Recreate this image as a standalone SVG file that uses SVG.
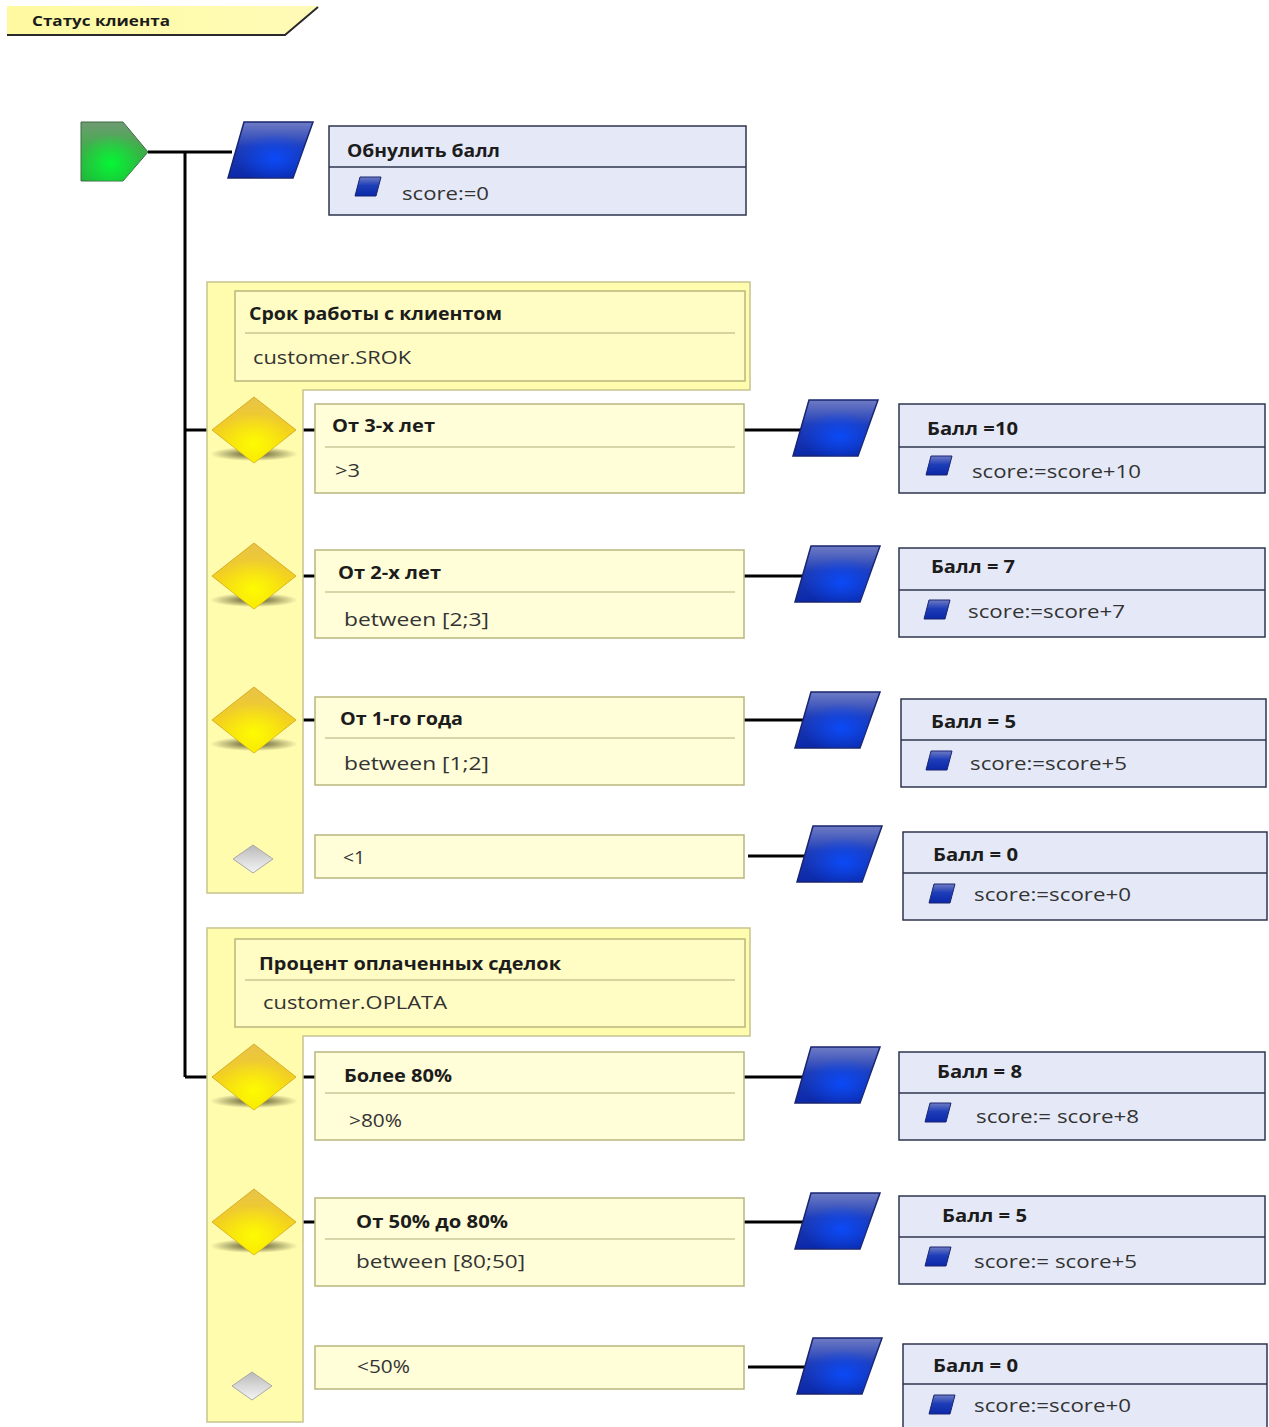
<svg xmlns="http://www.w3.org/2000/svg" width="1269" height="1427" viewBox="0 0 1269 1427">
<defs>
<linearGradient id="gGreen" x1="0" y1="0" x2="0" y2="1">
<stop offset="0" stop-color="#6f9a72"/><stop offset="0.45" stop-color="#3fae4a"/><stop offset="1" stop-color="#1fb83a"/>
</linearGradient>
<radialGradient id="gGreenHi" cx="0.45" cy="0.7" r="0.5">
<stop offset="0" stop-color="#00ff33" stop-opacity="0.9"/><stop offset="1" stop-color="#00ff33" stop-opacity="0"/>
</radialGradient>
<linearGradient id="gBlue" x1="0" y1="0" x2="0" y2="1">
<stop offset="0" stop-color="#6f7cc4"/><stop offset="0.45" stop-color="#1e3db8"/><stop offset="1" stop-color="#0a28a8"/>
</linearGradient>
<radialGradient id="gBlueHi" cx="0.55" cy="0.65" r="0.45">
<stop offset="0" stop-color="#0a4cff" stop-opacity="0.9"/><stop offset="1" stop-color="#0a4cff" stop-opacity="0"/>
</radialGradient>
<linearGradient id="gYellow" x1="0" y1="0" x2="0" y2="1">
<stop offset="0" stop-color="#e8c24a"/><stop offset="0.5" stop-color="#f3d020"/><stop offset="1" stop-color="#f6e400"/>
</linearGradient>
<radialGradient id="gYellowHi" cx="0.5" cy="0.7" r="0.45">
<stop offset="0" stop-color="#ffff00" stop-opacity="0.9"/><stop offset="1" stop-color="#ffff00" stop-opacity="0"/>
</radialGradient>
<radialGradient id="gShadow" cx="0.5" cy="0.5" r="0.5">
<stop offset="0" stop-color="#3a3410" stop-opacity="0.85"/><stop offset="1" stop-color="#3a3410" stop-opacity="0"/>
</radialGradient>
<linearGradient id="gGray" x1="0" y1="0" x2="0" y2="1">
<stop offset="0" stop-color="#b8b8b8"/><stop offset="0.5" stop-color="#d8d8d8"/><stop offset="1" stop-color="#f4f4f4"/>
</linearGradient>
<linearGradient id="gTab" x1="0" y1="0" x2="1" y2="0">
<stop offset="0" stop-color="#fffaa0"/><stop offset="1" stop-color="#fffbb8"/>
</linearGradient>
<filter id="blur2" x="-30%" y="-30%" width="160%" height="160%"><feGaussianBlur stdDeviation="2"/></filter>
<g id="para">
<path d="M 16 0 L 85 0 L 65 56 L 0 56 Z" fill="url(#gBlue)" stroke="#1a2570" stroke-width="1.5"/>
<path d="M 16 0 L 85 0 L 65 56 L 0 56 Z" fill="url(#gBlueHi)"/>
</g>
<g id="icon">
<path d="M 5 0 L 26 0 L 21 19 L 0 19 Z" fill="url(#gBlue)" stroke="#1a2570" stroke-width="1"/>
</g>
<g id="dia">
<ellipse cx="0" cy="24" rx="44" ry="7" fill="url(#gShadow)"/>
<path d="M -42 0 L 0 -33 L 42 0 L 0 33 Z" fill="url(#gYellow)" stroke="#d6b020" stroke-width="1"/>
<path d="M -42 0 L 0 -33 L 42 0 L 0 33 Z" fill="url(#gYellowHi)"/>
</g>
<g id="grayDia">
<path d="M -20 0 L 0 -14 L 20 0 L 0 14 Z" fill="url(#gGray)" stroke="#a8a8a8" stroke-width="1"/>
</g>
</defs>
<style>
.t{font-family:"Open Sans","Noto Sans","DejaVu Sans",sans-serif;fill:#1c1c1c}
.b{font-weight:bold;font-size:18px}
.v{font-size:19px;fill:#333}
.grp{fill:#fffcae;stroke:#c8c490;stroke-width:1.5}
.hdr{fill:#fffdc4;stroke:#b9b67e;stroke-width:1.5}
.cond{fill:#fffed8;stroke:#b9b67e;stroke-width:1.5}
.sep{stroke:#b0ad78;stroke-width:1.2}
.act{fill:#e5e9f7;stroke:#2e344e;stroke-width:1.5}
.asep{stroke:#2e344e;stroke-width:1.5}
.ln{stroke:#000;stroke-width:3;fill:none}
</style>

<g id="title-tab">
<path d="M 7 6 L 318 6 L 285 35 L 7 35 Z" fill="url(#gTab)"/>
<path d="M 7 35 L 285 35 L 318 7" fill="none" stroke="#2a2a2a" stroke-width="2"/>
<text class="t" x="32" y="26" font-weight="bold" font-size="14" textLength="138" lengthAdjust="spacingAndGlyphs">Статус клиента</text>
</g>

<g id="connectors">
<path class="ln" d="M 148 152 L 232 152"/>
<path class="ln" d="M 185 152 L 185 1077"/>
<path class="ln" d="M 185 430 L 214 430"/>
<path class="ln" d="M 185 1077 L 214 1077"/>
<path class="ln" d="M 254 430 L 254 846"/>
<path class="ln" d="M 254 1077 L 254 1373"/>
<path class="ln" d="M 294 430 L 316 430"/>
<path class="ln" d="M 294 576 L 316 576"/>
<path class="ln" d="M 294 720 L 316 720"/>
<path class="ln" d="M 294 1077 L 316 1077"/>
<path class="ln" d="M 294 1222 L 316 1222"/>
<path class="ln" d="M 744 430 L 806 430"/>
<path class="ln" d="M 744 576 L 806 576"/>
<path class="ln" d="M 744 720 L 806 720"/>
<path class="ln" d="M 748 856 L 808 856"/>
<path class="ln" d="M 744 1077 L 806 1077"/>
<path class="ln" d="M 744 1222 L 806 1222"/>
<path class="ln" d="M 748 1367 L 808 1367"/>
</g>

<g id="start">
<path d="M 81 122 L 123 122 L 148 152 L 123 181 L 81 181 Z" fill="url(#gGreen)" stroke="#3f6a45" stroke-width="1"/>
<path d="M 81 122 L 123 122 L 148 152 L 123 181 L 81 181 Z" fill="url(#gGreenHi)"/>
</g>

<g id="reset">
<use href="#para" x="228" y="122"/>
<rect class="act" x="329" y="126" width="417" height="89"/>
<line class="asep" x1="329" y1="167" x2="746" y2="167"/>
<text class="t b" x="347" y="157" textLength="153" lengthAdjust="spacingAndGlyphs">Обнулить балл</text>
<use href="#icon" x="355" y="177"/>
<text class="t v" x="402" y="200" textLength="87" lengthAdjust="spacingAndGlyphs">score:=0</text>
</g>

<g id="group-srok">
<path class="grp" d="M 207 282 L 750 282 L 750 390 L 303 390 L 303 893 L 207 893 Z"/>
<rect class="hdr" x="235" y="291" width="510" height="90"/>
<line class="sep" x1="245" y1="333" x2="735" y2="333"/>
<text class="t b" x="249" y="320" textLength="253" lengthAdjust="spacingAndGlyphs">Срок работы с клиентом</text>
<text class="t v" x="253" y="364" textLength="158" lengthAdjust="spacingAndGlyphs">customer.SROK</text>
</g>

<g id="cond-3">
<use href="#dia" x="254" y="430"/>
<rect class="cond" x="315" y="404" width="429" height="89"/>
<line class="sep" x1="325" y1="447" x2="735" y2="447"/>
<text class="t b" x="332" y="432" textLength="103" lengthAdjust="spacingAndGlyphs">От 3-х лет</text>
<text class="t v" x="335" y="477" textLength="25" lengthAdjust="spacingAndGlyphs">&gt;3</text>
</g>
<g id="cond-2">
<use href="#dia" x="254" y="576"/>
<rect class="cond" x="315" y="550" width="429" height="88"/>
<line class="sep" x1="325" y1="592" x2="735" y2="592"/>
<text class="t b" x="338" y="579" textLength="103" lengthAdjust="spacingAndGlyphs">От 2-х лет</text>
<text class="t v" x="344" y="626" textLength="145" lengthAdjust="spacingAndGlyphs">between [2;3]</text>
</g>
<g id="cond-1">
<use href="#dia" x="254" y="720"/>
<rect class="cond" x="315" y="697" width="429" height="88"/>
<line class="sep" x1="325" y1="738" x2="735" y2="738"/>
<text class="t b" x="340" y="725" textLength="123" lengthAdjust="spacingAndGlyphs">От 1-го года</text>
<text class="t v" x="344" y="770" textLength="145" lengthAdjust="spacingAndGlyphs">between [1;2]</text>
</g>
<g id="cond-lt1">
<use href="#grayDia" x="253" y="859"/>
<rect class="cond" x="315" y="835" width="429" height="43"/>
<text class="t v" x="343" y="864" textLength="22" lengthAdjust="spacingAndGlyphs">&lt;1</text>
</g>

<g id="act-10">
<use href="#para" x="793" y="400"/>
<rect class="act" x="899" y="404" width="366" height="89"/>
<line class="asep" x1="899" y1="447" x2="1265" y2="447"/>
<text class="t b" x="927" y="435" textLength="91" lengthAdjust="spacingAndGlyphs">Балл =10</text>
<use href="#icon" x="926" y="456"/>
<text class="t v" x="972" y="478" textLength="169" lengthAdjust="spacingAndGlyphs">score:=score+10</text>
</g>
<g id="act-7">
<use href="#para" x="795" y="546"/>
<rect class="act" x="899" y="548" width="366" height="89"/>
<line class="asep" x1="899" y1="590" x2="1265" y2="590"/>
<text class="t b" x="931" y="573" textLength="84" lengthAdjust="spacingAndGlyphs">Балл = 7</text>
<use href="#icon" x="924" y="600"/>
<text class="t v" x="968" y="618" textLength="157" lengthAdjust="spacingAndGlyphs">score:=score+7</text>
</g>
<g id="act-5a">
<use href="#para" x="795" y="692"/>
<rect class="act" x="901" y="699" width="365" height="88"/>
<line class="asep" x1="901" y1="740" x2="1266" y2="740"/>
<text class="t b" x="931" y="728" textLength="85" lengthAdjust="spacingAndGlyphs">Балл = 5</text>
<use href="#icon" x="926" y="751"/>
<text class="t v" x="970" y="770" textLength="157" lengthAdjust="spacingAndGlyphs">score:=score+5</text>
</g>
<g id="act-0a">
<use href="#para" x="797" y="826"/>
<rect class="act" x="903" y="832" width="364" height="88"/>
<line class="asep" x1="903" y1="873" x2="1267" y2="873"/>
<text class="t b" x="933" y="861" textLength="85" lengthAdjust="spacingAndGlyphs">Балл = 0</text>
<use href="#icon" x="929" y="884"/>
<text class="t v" x="974" y="901" textLength="157" lengthAdjust="spacingAndGlyphs">score:=score+0</text>
</g>

<g id="group-oplata">
<path class="grp" d="M 207 928 L 750 928 L 750 1036 L 303 1036 L 303 1422 L 207 1422 Z"/>
<rect class="hdr" x="235" y="939" width="510" height="88"/>
<line class="sep" x1="245" y1="980" x2="735" y2="980"/>
<text class="t b" x="259" y="970" textLength="302" lengthAdjust="spacingAndGlyphs">Процент оплаченных сделок</text>
<text class="t v" x="263" y="1009" textLength="184" lengthAdjust="spacingAndGlyphs">customer.OPLATA</text>
</g>

<g id="cond-80">
<use href="#dia" x="254" y="1077"/>
<rect class="cond" x="315" y="1052" width="429" height="88"/>
<line class="sep" x1="325" y1="1093" x2="735" y2="1093"/>
<text class="t b" x="344" y="1082" textLength="108" lengthAdjust="spacingAndGlyphs">Более 80%</text>
<text class="t v" x="349" y="1127" textLength="53" lengthAdjust="spacingAndGlyphs">&gt;80%</text>
</g>
<g id="cond-50-80">
<use href="#dia" x="254" y="1222"/>
<rect class="cond" x="315" y="1198" width="429" height="88"/>
<line class="sep" x1="325" y1="1239" x2="735" y2="1239"/>
<text class="t b" x="356" y="1228" textLength="152" lengthAdjust="spacingAndGlyphs">От 50% до 80%</text>
<text class="t v" x="356" y="1268" textLength="169" lengthAdjust="spacingAndGlyphs">between [80;50]</text>
</g>
<g id="cond-lt50">
<use href="#grayDia" x="252" y="1386"/>
<rect class="cond" x="315" y="1346" width="429" height="43"/>
<text class="t v" x="357" y="1373" textLength="53" lengthAdjust="spacingAndGlyphs">&lt;50%</text>
</g>

<g id="act-8">
<use href="#para" x="795" y="1047"/>
<rect class="act" x="899" y="1052" width="366" height="88"/>
<line class="asep" x1="899" y1="1093" x2="1265" y2="1093"/>
<text class="t b" x="937" y="1078" textLength="85" lengthAdjust="spacingAndGlyphs">Балл = 8</text>
<use href="#icon" x="925" y="1103"/>
<text class="t v" x="976" y="1123" textLength="163" lengthAdjust="spacingAndGlyphs">score:= score+8</text>
</g>
<g id="act-5b">
<use href="#para" x="795" y="1193"/>
<rect class="act" x="899" y="1196" width="366" height="88"/>
<line class="asep" x1="899" y1="1237" x2="1265" y2="1237"/>
<text class="t b" x="942" y="1222" textLength="85" lengthAdjust="spacingAndGlyphs">Балл = 5</text>
<use href="#icon" x="925" y="1247"/>
<text class="t v" x="974" y="1268" textLength="163" lengthAdjust="spacingAndGlyphs">score:= score+5</text>
</g>
<g id="act-0b">
<use href="#para" x="797" y="1338"/>
<rect class="act" x="903" y="1344" width="364" height="90"/>
<line class="asep" x1="903" y1="1384" x2="1267" y2="1384"/>
<text class="t b" x="933" y="1372" textLength="85" lengthAdjust="spacingAndGlyphs">Балл = 0</text>
<use href="#icon" x="929" y="1395"/>
<text class="t v" x="974" y="1412" textLength="157" lengthAdjust="spacingAndGlyphs">score:=score+0</text>
</g>
</svg>
